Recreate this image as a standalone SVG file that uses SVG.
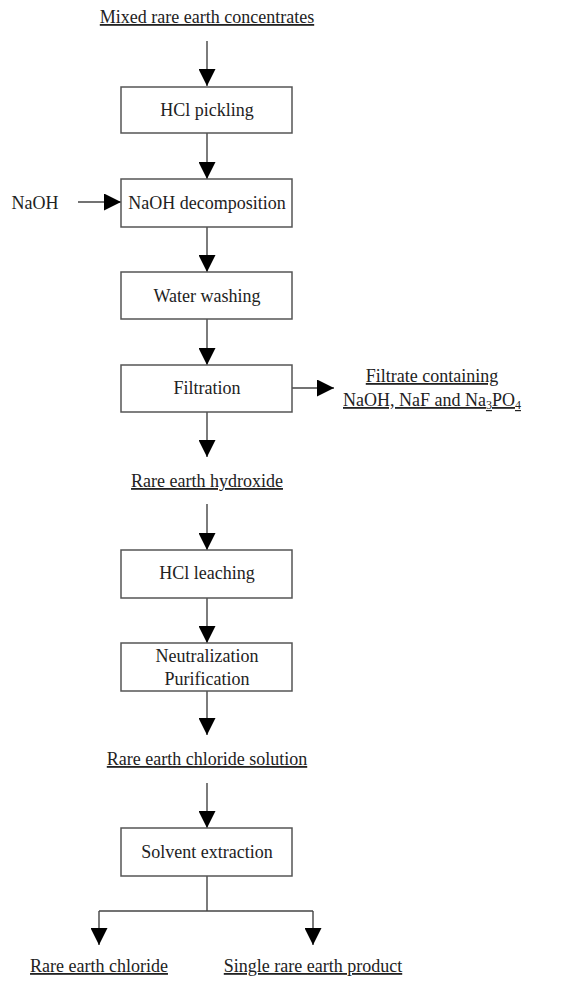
<svg xmlns="http://www.w3.org/2000/svg" width="577" height="981" viewBox="0 0 577 981">
  <style>
    .box { fill: #ffffff; stroke: #555555; stroke-width: 1.5; }
    .lbl { font-family: "Liberation Serif", "Times New Roman", serif; font-size: 18px; fill: #222222; text-anchor: middle; }
    .stream { text-decoration: underline; }
    .wire { fill: none; stroke: #444444; stroke-width: 1.4; }
  </style>
  <defs>
    <marker id="arrow" markerUnits="userSpaceOnUse" markerWidth="17" markerHeight="17" viewBox="0 0 16 16" refX="16" refY="8" orient="auto">
      <polygon points="0,0 16,8 0,16" fill="#000000"/>
    </marker>
  </defs>
  <rect width="577" height="981" fill="#ffffff"/>

  <g id="connectors">
    <line class="wire" x1="207" y1="41" x2="207" y2="86" marker-end="url(#arrow)"/>
    <line class="wire" x1="207" y1="133" x2="207" y2="179" marker-end="url(#arrow)"/>
    <line class="wire" x1="78" y1="202" x2="121" y2="202" marker-end="url(#arrow)"/>
    <line class="wire" x1="207" y1="227" x2="207" y2="272" marker-end="url(#arrow)"/>
    <line class="wire" x1="207" y1="319" x2="207" y2="365" marker-end="url(#arrow)"/>
    <line class="wire" x1="292" y1="388" x2="334" y2="388" marker-end="url(#arrow)"/>
    <line class="wire" x1="207" y1="412" x2="207" y2="457" marker-end="url(#arrow)"/>
    <line class="wire" x1="207" y1="504" x2="207" y2="550" marker-end="url(#arrow)"/>
    <line class="wire" x1="207" y1="598" x2="207" y2="643" marker-end="url(#arrow)"/>
    <line class="wire" x1="207" y1="691" x2="207" y2="735" marker-end="url(#arrow)"/>
    <line class="wire" x1="207" y1="783" x2="207" y2="828" marker-end="url(#arrow)"/>
    <line class="wire" x1="207" y1="876" x2="207" y2="911"/>
    <line class="wire" x1="99" y1="911" x2="313" y2="911"/>
    <line class="wire" x1="99" y1="911" x2="99" y2="945" marker-end="url(#arrow)"/>
    <line class="wire" x1="313" y1="911" x2="313" y2="945" marker-end="url(#arrow)"/>
  </g>

  <g id="feed">
    <text class="lbl stream" x="207" y="23">Mixed rare earth concentrates</text>
  </g>
  <g id="hcl-pickling">
    <rect class="box" x="121" y="87" width="171" height="46"/>
    <text class="lbl" x="207" y="116">HCl pickling</text>
  </g>
  <g id="naoh-input">
    <text class="lbl" x="35" y="209">NaOH</text>
  </g>
  <g id="naoh-decomposition">
    <rect class="box" x="121" y="179" width="171" height="48"/>
    <text class="lbl" x="207" y="209">NaOH decomposition</text>
  </g>
  <g id="water-washing">
    <rect class="box" x="121" y="272" width="171" height="47"/>
    <text class="lbl" x="207" y="302">Water washing</text>
  </g>
  <g id="filtration">
    <rect class="box" x="121" y="365" width="171" height="47"/>
    <text class="lbl" x="207" y="394">Filtration</text>
  </g>
  <g id="filtrate">
    <text class="lbl stream" x="432" y="382">Filtrate containing</text>
    <text class="lbl stream" x="432" y="406">NaOH, NaF and Na<tspan font-size="12" dy="3">3</tspan><tspan dy="-3">PO</tspan><tspan font-size="12" dy="3">4</tspan></text>
  </g>
  <g id="hydroxide">
    <text class="lbl stream" x="207" y="487">Rare earth hydroxide</text>
  </g>
  <g id="hcl-leaching">
    <rect class="box" x="121" y="550" width="171" height="48"/>
    <text class="lbl" x="207" y="579">HCl leaching</text>
  </g>
  <g id="neutralization">
    <rect class="box" x="121" y="643" width="171" height="48"/>
    <text class="lbl" x="207" y="662">Neutralization</text>
    <text class="lbl" x="207" y="685">Purification</text>
  </g>
  <g id="chloride-solution">
    <text class="lbl stream" x="207" y="765">Rare earth chloride solution</text>
  </g>
  <g id="solvent-extraction">
    <rect class="box" x="121" y="828" width="171" height="48"/>
    <text class="lbl" x="207" y="858">Solvent extraction</text>
  </g>
  <g id="chloride-product">
    <text class="lbl stream" x="99" y="972">Rare earth chloride</text>
  </g>
  <g id="single-product">
    <text class="lbl stream" x="313" y="972">Single rare earth product</text>
  </g>
</svg>
